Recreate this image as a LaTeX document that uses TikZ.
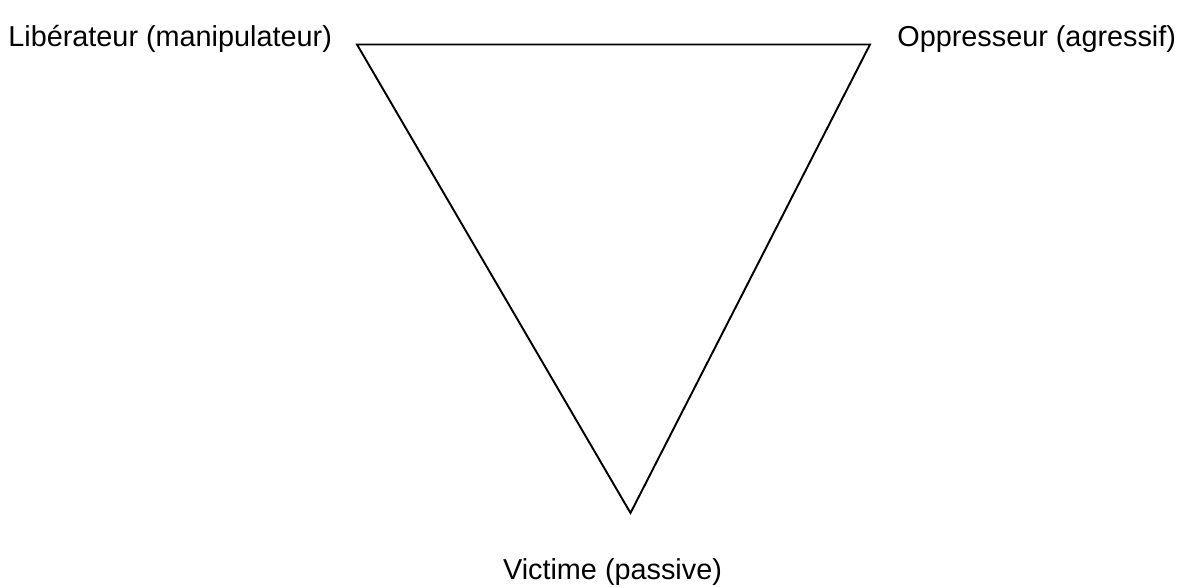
\documentclass[tikz,border=0pt]{standalone}
\usepackage{fontspec}
\setmainfont{Liberation Sans}
\usepackage{tikz}

\begin{document}
\begin{tikzpicture}[x=1cm,y=1cm]
\useasboundingbox (0,0) rectangle (23.66,11.74);
\tikzset{role/.style={font=\fontsize{16.4}{19}\selectfont,inner sep=0pt}}
\coordinate (lib) at (7.14,10.85);
\coordinate (opp) at (17.40,10.85);
\coordinate (vic) at (12.61,1.48);
\draw[line width=1.1pt,line join=miter] (lib) -- (opp) -- (vic) -- cycle;
\node[role,anchor=west] (liblabel) at (0.16,10.96) {Libérateur (manipulateur)};
\node[role,anchor=west] (opplabel) at (17.94,10.96) {Oppresseur (agressif)};
\node[role] (viclabel) at (12.25,0.30) {Victime (passive)};
\end{tikzpicture}
\end{document}
